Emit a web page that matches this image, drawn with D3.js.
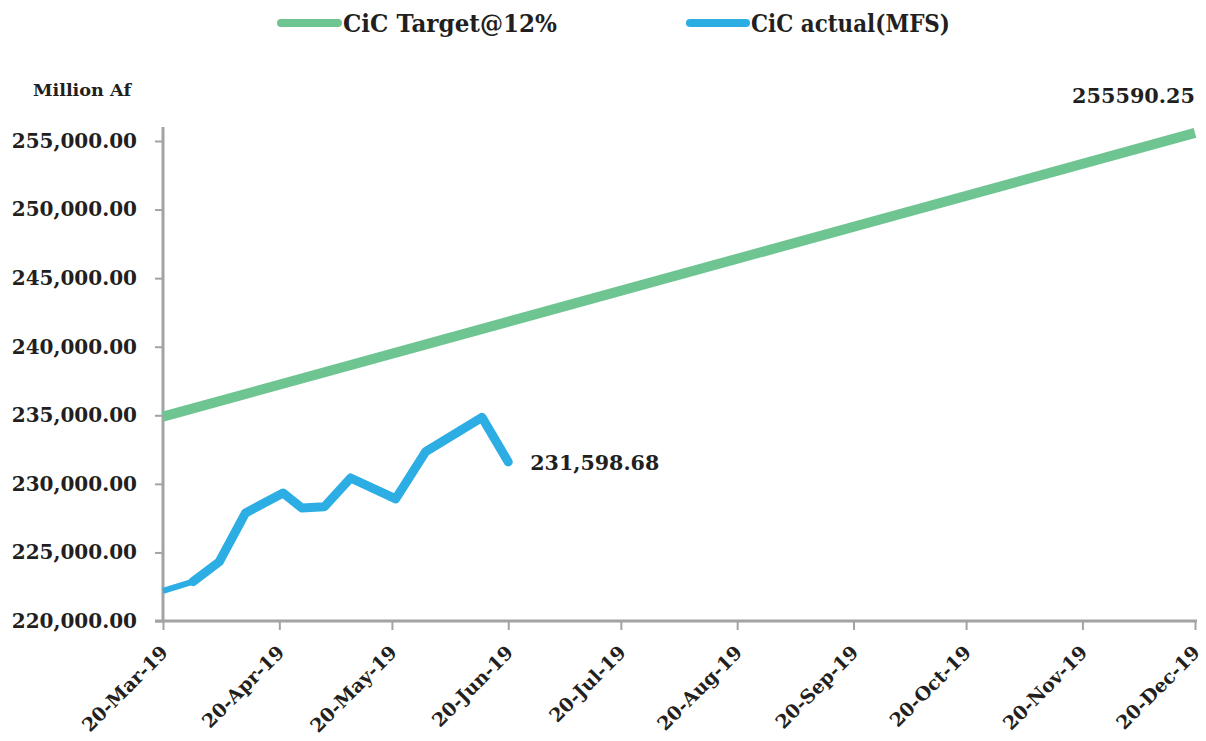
<!DOCTYPE html>
<html><head><meta charset="utf-8">
<script src="https://cdn.jsdelivr.net/npm/d3@7"></script>
<style>
html,body{margin:0;padding:0;background:#fff;}
svg text{font-family:"DejaVu Serif","Liberation Serif",serif;font-weight:bold;fill:#231f20;}
</style></head>
<body>
<svg id="chart" width="1206" height="741"></svg>
<script>
// ---- data ----
const actualDates = ["2019-03-20","2019-03-28","2019-04-04","2019-04-11","2019-04-21","2019-04-26","2019-05-02","2019-05-09","2019-05-21","2019-05-29","2019-06-13","2019-06-20"];
const actualValues = [222200, 222870, 224320, 227880, 229330, 228240, 228330, 230430, 228900, 232350, 234850, 231598.68];
const targetDates = ["2019-03-20","2019-12-20"];
const targetValues = [234900, 255590.25];
const xTickDates = ["2019-03-20","2019-04-20","2019-05-20","2019-06-20","2019-07-20","2019-08-20","2019-09-20","2019-10-20","2019-11-20","2019-12-20"];
const yTickValues = [220000, 225000, 230000, 235000, 240000, 245000, 250000, 255000];
const seriesNames = ["CiC Target@12%", "CiC actual(MFS)"];

const parse = d3.timeParse("%Y-%m-%d");
const fmtDate = d3.timeFormat("%d-%b-%y");
const svg = d3.select("#chart");
const grey = "#a3a3a6";
const green = "#6fc591";
const blue = "#2cade3";

const x = d3.scaleTime().domain([parse("2019-03-20"), parse("2019-12-20")]).range([163, 1195]);
const y = d3.scaleLinear().domain([220000, 255000]).range([621, 141]);

// axes
const yAxis = d3.axisLeft(y).tickValues(yTickValues).tickSize(8).tickPadding(18).tickFormat(d3.format(",.2f"));
const gy = svg.append("g").attr("transform","translate(163,0)").call(yAxis);
gy.select(".domain").remove();
gy.selectAll(".tick line").attr("stroke", grey).attr("stroke-width", 2);
gy.selectAll(".tick text").style("font-size","20px").attr("fill","#231f20");

const xAxis = d3.axisBottom(x).tickValues(xTickDates.map(parse)).tickSize(9).tickFormat(fmtDate);
const gx = svg.append("g").attr("transform","translate(0,621)").call(xAxis);
gx.select(".domain").remove();
gx.selectAll(".tick line").attr("stroke", grey).attr("stroke-width", 2);
gx.selectAll(".tick text")
  .style("font-size","19px")
  .attr("text-anchor","end")
  .attr("y",0).attr("dy","0.35em")
  .attr("transform","translate(1,28) rotate(-45)");

// axis lines
svg.append("line").attr("x1",163).attr("x2",163).attr("y1",127).attr("y2",y(220000)).attr("stroke",grey).attr("stroke-width",3);
svg.append("line").attr("x1",155).attr("x2",1197).attr("y1",y(220000)).attr("y2",y(220000)).attr("stroke",grey).attr("stroke-width",3);

// lines
const line = d3.line().x(d => x(d[0])).y(d => y(d[1]));
const targetPts = targetDates.map((d,i)=>[parse(d), targetValues[i]]);
const actualPts = actualDates.map((d,i)=>[parse(d), actualValues[i]]);

svg.append("path").datum(targetPts).attr("d", line).attr("fill","none")
  .attr("stroke", green).attr("stroke-width", 10).attr("stroke-linecap","butt");

svg.append("path").datum(actualPts.slice(0,2)).attr("d", line).attr("fill","none")
  .attr("stroke", blue).attr("stroke-width", 6).attr("stroke-linecap","butt");
svg.append("path").datum(actualPts.slice(1)).attr("d", line).attr("fill","none")
  .attr("stroke", blue).attr("stroke-width", 9).attr("stroke-linecap","round").attr("stroke-linejoin","round");

// data labels
const last = actualPts[actualPts.length-1];
svg.append("text").attr("x", x(last[0]) + 22).attr("y", y(last[1]) + 8)
  .style("font-size","20px").attr("textLength", 129).attr("lengthAdjust","spacingAndGlyphs")
  .text(d3.format(",.2f")(last[1]));
svg.append("text").attr("x", 1195).attr("y", 103).attr("text-anchor","end")
  .style("font-size","20px").attr("textLength", 123).attr("lengthAdjust","spacingAndGlyphs")
  .text(d3.format(".2f")(targetValues[1]));

// axis title
svg.append("text").attr("x", 33).attr("y", 96).style("font-size","16px")
  .attr("textLength", 98).attr("lengthAdjust","spacingAndGlyphs").text("Million Af");

// legend
const legend = [
  {name: seriesNames[0], color: green, x1: 281, x2: 338, tx: 343, tw: 214},
  {name: seriesNames[1], color: blue, x1: 690, x2: 746, tx: 751, tw: 199}
];
legend.forEach(l => {
  svg.append("line").attr("x1", l.x1).attr("x2", l.x2).attr("y1", 23).attr("y2", 23)
    .attr("stroke", l.color).attr("stroke-width", 8).attr("stroke-linecap","round");
  svg.append("text").attr("x", l.tx).attr("y", 32).style("font-size","25px")
    .attr("textLength", l.tw).attr("lengthAdjust","spacingAndGlyphs").text(l.name);
});
</script>
</body></html>
